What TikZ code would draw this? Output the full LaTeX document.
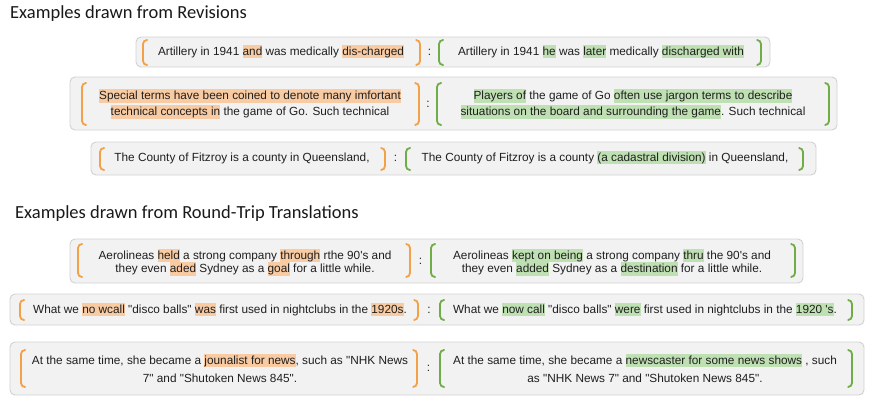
\documentclass[tikz,border=0pt]{standalone}
\usepackage{fontspec}
\usepackage{xcolor}
\newfontfamily\txtfont{Liberation Sans}
\newfontfamily\headfont{Carlito}
\definecolor{hlorange}{HTML}{F9CBA3}
\definecolor{hlgreen}{HTML}{BFE0B2}
\definecolor{brorange}{HTML}{F2A148}
\definecolor{brgreen}{HTML}{70AD47}
\newcommand{\hlo}[1]{{\setlength{\fboxsep}{0pt}\colorbox{hlorange}{\rule[-3pt]{0pt}{13.5pt}#1}}}
\newcommand{\hlg}[1]{{\setlength{\fboxsep}{0pt}\colorbox{hlgreen}{\rule[-3pt]{0pt}{13.5pt}#1}}}

\begin{document}
\begin{tikzpicture}[
            x=1pt, y=-1pt,
            rowbox/.style={draw=black!18, fill=black!5, rounded corners=5pt, line width=0.9pt},
            obr/.style={draw=brorange, line width=1.8pt, rounded corners=4pt},
            gbr/.style={draw=brgreen, line width=1.8pt, rounded corners=4pt},
            txt/.style={font=\txtfont\fontsize{11.8}{#1}\selectfont, align=center, inner sep=0pt, text=black!88},
            txt/.default=16,
            head/.style={font=\headfont\fontsize{18.5}{22}\selectfont, anchor=base west, inner sep=0pt, text=black!90},
        ]
            \useasboundingbox (0,0) rectangle (872,405);
            \node[head] (revhead) at (10,18) {Examples drawn from Revisions};
            \node[head] (rtthead) at (15,218) {Examples drawn from Round-Trip Translations};

            \draw[rowbox] (136,37) rectangle (770,67);
            \draw[rowbox] (70,77) rectangle (837,130);
            \draw[rowbox] (91,142) rectangle (816,175);
            \draw[rowbox] (70,239) rectangle (803,283);
            \draw[rowbox] (10,294) rectangle (864,325);
            \draw[rowbox] (10,342) rectangle (864,395);

            \foreach \x/\t/\b in {143/40/65, 82/83/125, 100/148/170, 78/244/277, 20/300/320, 21/350/387}
                \draw[obr] (\x+4.5,\t) -- (\x,\t) -- (\x,\b) -- (\x+4.5,\b);
            \foreach \x/\t/\b in {420/40/65, 419/83/125, 385/148/170, 410/244/277, 418/300/320, 417/350/387}
                \draw[obr] (\x-4.5,\t) -- (\x,\t) -- (\x,\b) -- (\x-4.5,\b);
            \foreach \x/\t/\b in {439/40/65, 437/83/125, 406/148/170, 431/244/277, 440/300/320, 440/350/387}
                \draw[gbr] (\x+4.5,\t) -- (\x,\t) -- (\x,\b) -- (\x+4.5,\b);
            \foreach \x/\t/\b in {761/40/65, 829/83/125, 803/148/170, 795/244/277, 852/300/320, 852/350/387}
                \draw[gbr] (\x-4.5,\t) -- (\x,\t) -- (\x,\b) -- (\x-4.5,\b);

            \node[txt, anchor=base] (r1l) at (281,55) {Artillery in 1941 \hlo{and} was medically \hlo{dis-charged}};
            \node[txt] (r1c) at (429.5,52) {:};
            \node[txt, anchor=base] (r1r) at (601,55) {Artillery in 1941 \hlg{he} was \hlg{later} medically \hlg{discharged with}};

            \node[txt] (r2l) at (250,104) {\hlo{Special terms have been coined to denote many imfortant}\\
                \hlo{technical concepts in} the game of Go. Such technical};
            \node[txt] (r2c) at (428,104) {:};
            \node[txt] (r2r) at (633,104) {\hlg{Players of} the game of Go \hlg{often use jargon terms to describe}\\
                \hlg{situations on the board and surrounding the game}. Such technical};

            \node[txt, anchor=base] (r3l) at (242,161) {The County of Fitzroy is a county in Queensland,};
            \node[txt] (r3c) at (395.5,158) {:};
            \node[txt, anchor=base] (r3r) at (605,161) {The County of Fitzroy is a county \hlg{(a cadastral division)} in Queensland,};

            \node[txt=13.5] (r4l) at (245,262) {Aerolineas \hlo{held} a strong company \hlo{through} rthe 90's and\\
                they even \hlo{aded} Sydney as a \hlo{goal} for a little while.};
            \node[txt] (r4c) at (420.5,261) {:};
            \node[txt=13.5] (r4r) at (612,262) {Aerolineas \hlg{kept on being} a strong company \hlg{thru} the 90's and\\
                they even \hlg{added} Sydney as a \hlg{destination} for a little while.};

            \node[txt, anchor=base] (r5l) at (220,313) {What we \hlo{no wcall} "disco balls" \hlo{was} first used in nightclubs in the \hlo{1920s}.};
            \node[txt] (r5c) at (429,310) {:};
            \node[txt, anchor=base] (r5r) at (645,313) {What we \hlg{now call} "disco balls" \hlg{were} first used in nightclubs in the \hlg{1920 's}.};

            \node[txt=18] (r6l) at (220,368) {At the same time, she became a \hlo{jounalist for news}, such as "NHK News\\
                7" and "Shutoken News 845".};
            \node[txt] (r6c) at (428.5,368) {:};
            \node[txt=18] (r6r) at (645,368) {At the same time, she became a \hlg{newscaster for some news shows} , such\\
                as "NHK News 7" and "Shutoken News 845".};
        \end{tikzpicture}
\end{document}
